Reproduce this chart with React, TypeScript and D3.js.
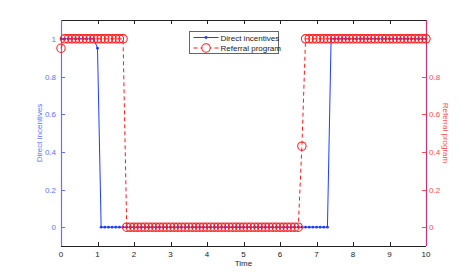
import { useEffect, useRef } from "react";
import * as d3 from "d3";

// sampled every 0.1 time units, t = 0 .. 10
const TIME_STEP = 0.1;

const directIncentives = [
  1, 1, 1, 1, 1, 1, 1, 1, 1, 1,
  0.95, 0, 0, 0, 0, 0, 0, 0, 0, 0,
  0, 0, 0, 0, 0, 0, 0, 0, 0, 0,
  0, 0, 0, 0, 0, 0, 0, 0, 0, 0,
  0, 0, 0, 0, 0, 0, 0, 0, 0, 0,
  0, 0, 0, 0, 0, 0, 0, 0, 0, 0,
  0, 0, 0, 0, 0, 0, 0, 0, 0, 0,
  0, 0, 0, 0, 1, 1, 1, 1, 1, 1,
  1, 1, 1, 1, 1, 1, 1, 1, 1, 1,
  1, 1, 1, 1, 1, 1, 1, 1, 1, 1,
  1,
];

const referralProgram = [
  0.95, 1, 1, 1, 1, 1, 1, 1, 1, 1,
  1, 1, 1, 1, 1, 1, 1, 1, 0, 0,
  0, 0, 0, 0, 0, 0, 0, 0, 0, 0,
  0, 0, 0, 0, 0, 0, 0, 0, 0, 0,
  0, 0, 0, 0, 0, 0, 0, 0, 0, 0,
  0, 0, 0, 0, 0, 0, 0, 0, 0, 0,
  0, 0, 0, 0, 0, 0, 0.43, 1, 1, 1,
  1, 1, 1, 1, 1, 1, 1, 1, 1, 1,
  1, 1, 1, 1, 1, 1, 1, 1, 1, 1,
  1, 1, 1, 1, 1, 1, 1, 1, 1, 1,
  1,
];

const xTicks = [0, 1, 2, 3, 4, 5, 6, 7, 8, 9, 10];
const leftTicks = [0, 0.2, 0.4, 0.6, 0.8, 1];
const rightTicks = [0, 0.2, 0.4, 0.6, 0.8];

const W = 471;
const H = 277;
const margin = { left: 61, right: 45, top: 20, bottom: 31 };
const FONT = "'Liberation Sans', Arial, sans-serif";
const BLUE = "#1f3dff";
const BLUE_TXT = "#5d74ff";
const RED = "#ff1a1a";
const RED_TXT = "#ff4d4d";
const RIGHT_AXIS = "#c8327a";

export default function App() {
  const ref = useRef<SVGSVGElement | null>(null);

  useEffect(() => {
    const svg = d3.select(ref.current);
    svg.selectAll("*").remove();

    const x0 = margin.left;
    const x1 = W - margin.right;
    const y0 = margin.top;
    const y1 = H - margin.bottom;

    const x = d3.scaleLinear().domain([0, 10]).range([x0, x1]);
    const yL = d3.scaleLinear().domain([-0.1, 1.1]).range([y1, y0]);
    const yR = d3.scaleLinear().domain([-0.1, 1.1]).range([y1, y0]);

    const blueData = directIncentives.map((v, i) => [i * TIME_STEP, v] as [number, number]);
    const redData = referralProgram.map((v, i) => [i * TIME_STEP, v] as [number, number]);

    // box top / bottom
    svg.append("line").attr("x1", x0).attr("x2", x1).attr("y1", y0 + 0.5).attr("y2", y0 + 0.5)
      .attr("stroke", "#222").attr("stroke-width", 1);
    svg.append("line").attr("x1", x0).attr("x2", x1).attr("y1", y1 + 0.5).attr("y2", y1 + 0.5)
      .attr("stroke", "#222").attr("stroke-width", 1);

    // x ticks (bottom and top, inward)
    xTicks.forEach((t) => {
      const px = Math.round(x(t)) + 0.5;
      svg.append("line").attr("x1", px).attr("x2", px).attr("y1", y1).attr("y2", y1 - 4)
        .attr("stroke", "#222");
      svg.append("line").attr("x1", px).attr("x2", px).attr("y1", y0).attr("y2", y0 + 4)
        .attr("stroke", "#222");
      svg.append("text").attr("x", x(t)).attr("y", y1 + 11).attr("text-anchor", "middle")
        .attr("font-family", FONT).attr("font-size", 8).attr("fill", "#222").text(d3.format("d")(t));
    });
    svg.append("text").attr("x", (x0 + x1) / 2).attr("y", y1 + 20).attr("text-anchor", "middle")
      .attr("font-family", FONT).attr("font-size", 8).attr("fill", "#222").text("Time");

    // left axis
    svg.append("line").attr("x1", x0 + 0.5).attr("x2", x0 + 0.5).attr("y1", y0).attr("y2", y1)
      .attr("stroke", BLUE_TXT).attr("stroke-width", 1.2);
    leftTicks.forEach((t) => {
      const py = Math.round(yL(t)) + 0.5;
      svg.append("line").attr("x1", x0).attr("x2", x0 + 4).attr("y1", py).attr("y2", py)
        .attr("stroke", BLUE_TXT);
      svg.append("text").attr("x", x0 - 5).attr("y", yL(t) + 3).attr("text-anchor", "end")
        .attr("font-family", FONT).attr("font-size", 8).attr("fill", BLUE_TXT).text(String(t));
    });
    svg.append("text")
      .attr("transform", `translate(${x0 - 19},${(y0 + y1) / 2}) rotate(-90)`)
      .attr("text-anchor", "middle").attr("font-family", FONT).attr("font-size", 8)
      .attr("fill", BLUE_TXT).text("Direct incentives");

    // right axis
    svg.append("line").attr("x1", x1 + 0.5).attr("x2", x1 + 0.5).attr("y1", y0).attr("y2", y1)
      .attr("stroke", RIGHT_AXIS).attr("stroke-width", 1.2);
    rightTicks.forEach((t) => {
      const py = Math.round(yR(t)) + 0.5;
      svg.append("line").attr("x1", x1 - 4).attr("x2", x1).attr("y1", py).attr("y2", py)
        .attr("stroke", RED_TXT);
      svg.append("text").attr("x", x1 + 3).attr("y", yR(t) + 3).attr("text-anchor", "start")
        .attr("font-family", FONT).attr("font-size", 8).attr("fill", RED_TXT).text(String(t));
    });
    svg.append("text")
      .attr("transform", `translate(${x1 + 17},${(y0 + y1) / 2}) rotate(90)`)
      .attr("text-anchor", "middle").attr("font-family", FONT).attr("font-size", 8)
      .attr("fill", RED_TXT).text("Referral program");

    // blue series
    const lineL = d3.line<[number, number]>().x((d) => x(d[0])).y((d) => yL(d[1]));
    svg.append("path").attr("d", lineL(blueData)).attr("fill", "none")
      .attr("stroke", BLUE).attr("stroke-width", 1);
    svg.append("g").selectAll("circle").data(blueData).join("circle")
      .attr("cx", (d) => x(d[0])).attr("cy", (d) => yL(d[1])).attr("r", 1.4).attr("fill", BLUE);

    // red series
    const lineR = d3.line<[number, number]>().x((d) => x(d[0])).y((d) => yR(d[1]));
    svg.append("path").attr("d", lineR(redData)).attr("fill", "none")
      .attr("stroke", RED).attr("stroke-width", 1).attr("stroke-dasharray", "4,3");
    svg.append("g").selectAll("circle").data(redData).join("circle")
      .attr("cx", (d) => x(d[0])).attr("cy", (d) => yR(d[1])).attr("r", 4.2)
      .attr("fill", "none").attr("stroke", RED).attr("stroke-width", 1.05);

    // legend
    const lg = svg.append("g").attr("transform", "translate(189.5,31.5)");
    lg.append("rect").attr("width", 89).attr("height", 22).attr("fill", "white")
      .attr("stroke", "#666").attr("stroke-width", 1);
    lg.append("line").attr("x1", 4).attr("x2", 29).attr("y1", 6).attr("y2", 6)
      .attr("stroke", BLUE).attr("stroke-width", 1);
    lg.append("circle").attr("cx", 16.5).attr("cy", 6).attr("r", 1.4).attr("fill", BLUE);
    lg.append("text").attr("x", 31).attr("y", 9).attr("font-family", FONT).attr("font-size", 8)
      .attr("fill", "#222").text("Direct incentives");
    lg.append("line").attr("x1", 4).attr("x2", 29).attr("y1", 16.5).attr("y2", 16.5)
      .attr("stroke", RED).attr("stroke-width", 1).attr("stroke-dasharray", "4,3");
    lg.append("circle").attr("cx", 16.5).attr("cy", 16.5).attr("r", 4.2)
      .attr("fill", "white").attr("stroke", RED).attr("stroke-width", 1.05);
    lg.append("text").attr("x", 31).attr("y", 19.5).attr("font-family", FONT).attr("font-size", 8)
      .attr("fill", "#222").text("Referral program");
  }, []);

  return (
    <svg
      ref={ref}
      width={W}
      height={H}
      style={{ position: "fixed", left: 0, top: 0, background: "white" }}
    />
  );
}
